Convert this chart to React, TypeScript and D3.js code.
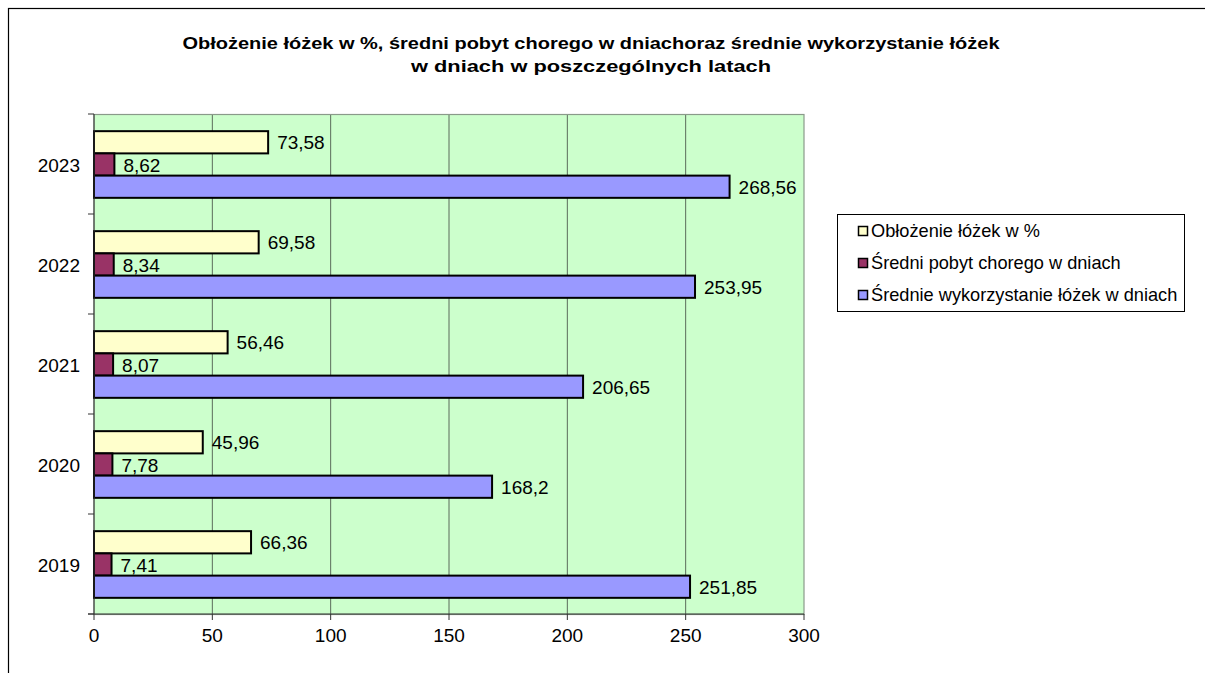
import React from "react";
import * as d3 from "d3";

const years = ["2019", "2020", "2021", "2022", "2023"];
const seriesNames = [
  "Obłożenie łóżek w %",
  "Średni pobyt chorego w dniach",
  "Średnie wykorzystanie łóżek w dniach",
];
const oblozenie = [66.36, 45.96, 56.46, 69.58, 73.58];
const pobyt = [7.41, 7.78, 8.07, 8.34, 8.62];
const wykorzystanie = [251.85, 168.2, 206.65, 253.95, 268.56];
const seriesValues = [oblozenie, pobyt, wykorzystanie];
const seriesColors = ["#FFFFCC", "#993366", "#9999FF"];
const xTicks = [0, 50, 100, 150, 200, 250, 300];
const titleLines = [
  "Obłożenie łóżek w %, średni pobyt chorego w dniachoraz średnie wykorzystanie łóżek",
  "w dniach w poszczególnych latach",
];

const fmt = (v: number) => String(v).replace(".", ",");

export default function App() {
  const W = 1205, H = 673;
  const left = 94, right = 804, top = 114, bottom = 614;
  const x = d3.scaleLinear().domain([0, 300]).range([left, right]);
  const y = d3.scaleBand().domain([...years].reverse()).range([top, bottom]).padding(0);
  const bw = y.bandwidth();
  const inner = d3.scaleBand().domain(["0", "1", "2"]).range([bw / 6 + 0.5, (bw * 5) / 6 + 0.5]).padding(0);
  const font = "Arial, 'Liberation Sans', sans-serif";
  const fs = 19;

  return (
    <div style={{ position: "absolute", left: 0, top: 0 }}>
      <svg width={W} height={H} style={{ display: "block", background: "#fff" }}>
        <rect x={8.5} y={8.5} width={W + 10} height={H + 10} fill="none" stroke="#000" strokeWidth={1.2} />
        {titleLines.map((t, i) => (
          <text key={i} x={591} y={48.5 + i * 23.5} textAnchor="middle" fontFamily={font} fontWeight="bold" fontSize={16.5}
            textLength={i === 0 ? 817 : 360} lengthAdjust="spacingAndGlyphs" fill="#000">{t}</text>
        ))}
        <rect x={left} y={top} width={right - left} height={bottom - top} fill="#CCFFCC" />
        {xTicks.slice(1, -1).map((t) => (
          <line key={t} x1={x(t)} x2={x(t)} y1={top} y2={bottom} stroke="#5a6b5a" strokeWidth={1} />
        ))}
        <rect x={left} y={top + 0.5} width={right - left} height={bottom - top} fill="none" stroke="#8a9a8a" strokeWidth={1.2} />
        {years.map((yr, yi) =>
          seriesValues.map((vals, si) => {
            const y0 = (y(yr) as number) + (inner(String(si)) as number);
            const h = inner.bandwidth();
            return (
              <g key={yr + si}>
                <rect x={x(0)} y={y0} width={x(vals[yi]) - x(0)} height={h} fill={seriesColors[si]} stroke="#000" strokeWidth={2} />
                <text x={x(vals[yi]) + 9} y={y0 + h / 2 + 7} fontFamily={font} fontSize={fs} fill="#000">{fmt(vals[yi])}</text>
              </g>
            );
          })
        )}
        {/* axes */}
        <line x1={left} x2={left} y1={top} y2={bottom} stroke="#333" strokeWidth={1} />
        <line x1={left - 6} x2={right} y1={bottom} y2={bottom} stroke="#333" strokeWidth={1} />
        {d3.range(years.length + 1).map((i) => {
          const yy = top + i * bw;
          return <line key={i} x1={left - 6} x2={left} y1={yy} y2={yy} stroke="#333" strokeWidth={1} />;
        })}
        {years.map((yr) => (
          <text key={yr} x={80} y={(y(yr) as number) + bw / 2 + 7.5} textAnchor="end" fontFamily={font} fontSize={fs} fill="#000">{yr}</text>
        ))}
        {xTicks.map((t) => (
          <g key={t}>
            <line x1={x(t)} x2={x(t)} y1={bottom} y2={bottom + 6} stroke="#333" strokeWidth={1} />
            <text x={x(t)} y={bottom + 28} textAnchor="middle" fontFamily={font} fontSize={fs} fill="#000">{t}</text>
          </g>
        ))}
        {/* legend */}
        <rect x={837.5} y={214.5} width={347} height={97} fill="#fff" stroke="#000" strokeWidth={1} />
        {seriesNames.map((n, i) => (
          <g key={n}>
            <rect x={858.5} y={226.5 + i * 32} width={9} height={9} fill={seriesColors[i]} stroke="#000" strokeWidth={1.5} />
            <text x={871} y={237 + i * 32} fontFamily={font} fontSize={18.2} fill="#000">{n}</text>
          </g>
        ))}
      </svg>
    </div>
  );
}
